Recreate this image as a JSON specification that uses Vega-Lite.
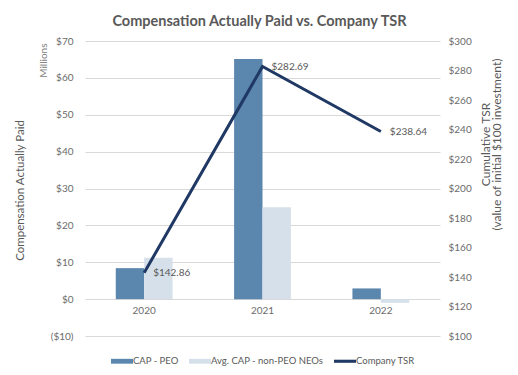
{
  "$schema": "https://vega.github.io/schema/vega-lite/v6.json",
  "width": 355,
  "height": 295,
  "autosize": {"type": "none"},
  "padding": {"left": 85, "top": 41, "right": 78, "bottom": 39},
  "background": "white",
  "config": {
    "font": "Lato",
    "view": {"stroke": null},
    "axis": {"labelColor": "#6b6b6b", "titleColor": "#595959", "labelFontSize": 10, "gridColor": "#d9d9d9", "domain": false, "ticks": false}
  },
  "title": {"text": "Compensation Actually Paid vs. Company TSR", "fontSize": 14.5, "fontWeight": "bold", "color": "#595959", "anchor": "middle", "frame": "group", "offset": -62, "dx": -3},
  "datasets": {
    "comp": [
      {"year": "2020", "series": "CAP - PEO", "value": 8.4},
      {"year": "2020", "series": "Avg. CAP - non-PEO NEOs", "value": 11.2},
      {"year": "2021", "series": "CAP - PEO", "value": 65.1},
      {"year": "2021", "series": "Avg. CAP - non-PEO NEOs", "value": 24.9},
      {"year": "2022", "series": "CAP - PEO", "value": 2.9},
      {"year": "2022", "series": "Avg. CAP - non-PEO NEOs", "value": -1.0}
    ],
    "tsr": [
      {"year": "2020", "series": "Company TSR", "tsr": 142.86},
      {"year": "2021", "series": "Company TSR", "tsr": 282.69},
      {"year": "2022", "series": "Company TSR", "tsr": 238.64}
    ]
  },
  "encoding": {
    "x": {
      "field": "year", "type": "nominal", "title": null,
      "scale": {"paddingInner": 0.52, "paddingOuter": 0.26},
      "axis": {"labelAngle": 0, "offset": -33, "labelPadding": 2, "grid": false, "labelFontSize": 10}
    }
  },
  "layer": [
    {
      "data": {"name": "comp"},
      "mark": {"type": "bar"},
      "encoding": {
        "xOffset": {"field": "series", "type": "nominal", "sort": ["CAP - PEO", "Avg. CAP - non-PEO NEOs"], "scale": {"paddingInner": 0, "paddingOuter": 0}},
        "y": {
          "field": "value", "type": "quantitative",
          "scale": {"domain": [-10, 70], "nice": false, "zero": false},
          "axis": {
            "values": [-10, 0, 10, 20, 30, 40, 50, 60, 70],
            "labelExpr": "datum.value < 0 ? '($' + (-datum.value) + ')' : '$' + datum.value",
            "labelPadding": 12,
            "title": "Compensation Actually Paid",
            "titleFontSize": 11.5, "titleFontWeight": "normal",
            "titleAngle": 270, "titleX": -65, "titleY": 149, "titleAlign": "center", "titleBaseline": "middle"
          }
        },
        "color": {
          "field": "series", "type": "nominal",
          "scale": {"domain": ["CAP - PEO", "Avg. CAP - non-PEO NEOs", "Company TSR"], "range": ["#5b86ae", "#d6e0ea", "#1f3864"]},
          "legend": {
            "orient": "none", "legendX": 26, "legendY": 309, "direction": "horizontal", "title": null,
            "labelFontSize": 9.5, "labelColor": "#595959", "labelOffset": 0,
            "columnPadding": 10, "symbolSize": 484,
            "encode": {
              "symbols": {
                "update": {
                  "shape": {"signal": "datum.value === 'Company TSR' ? 'M-1,-0.14H1V0.14H-1Z' : 'M-1,-0.22H1V0.22H-1Z'"},
                  "fill": {"signal": "scale('color', datum.value)"},
                  "strokeWidth": {"value": 0},
                  "opacity": {"value": 1}
                }
              }
            }
          }
        }
      }
    },
    {
      "data": {"name": "tsr"},
      "encoding": {
        "y": {
          "field": "tsr", "type": "quantitative",
          "scale": {"domain": [100, 300], "nice": false, "zero": false},
          "axis": {
            "orient": "right", "grid": false,
            "values": [100, 120, 140, 160, 180, 200, 220, 240, 260, 280, 300],
            "labelExpr": "'$' + datum.value", "labelPadding": 8,
            "title": "Cumulative TSR",
            "titleFontSize": 12, "titleFontWeight": "normal",
            "titleAngle": 270, "titleX": 45, "titleY": 103, "titleAlign": "center", "titleBaseline": "middle"
          }
        }
      },
      "layer": [
        {
          "mark": {"type": "line", "strokeWidth": 3},
          "encoding": {"color": {"field": "series", "type": "nominal"}}
        },
        {
          "mark": {"type": "text", "align": "left", "baseline": "middle", "dx": 9, "fontSize": 10, "color": "#595959"},
          "encoding": {"text": {"field": "tsr", "type": "quantitative", "format": "$.2f"}}
        }
      ]
    },
    {
      "data": {"name": "tsr"},
      "mark": {"type": "point", "opacity": 0},
      "encoding": {
        "y": {
          "field": "tsr", "type": "quantitative",
          "scale": {"domain": [100, 300], "nice": false, "zero": false},
          "axis": {
            "orient": "right", "labels": false, "grid": false, "ticks": false, "domain": false,
            "title": "(value of initial $100 investment)",
            "titleFontSize": 12, "titleFontWeight": "normal",
            "titleAngle": 270, "titleX": 56, "titleY": 103, "titleAlign": "center", "titleBaseline": "middle"
          }
        }
      }
    },
    {
      "data": {"name": "comp"},
      "mark": {"type": "bar", "opacity": 0},
      "encoding": {
        "y": {
          "field": "value", "type": "quantitative",
          "scale": {"domain": [-10, 70], "nice": false, "zero": false},
          "axis": {
            "orient": "left", "labels": false, "grid": false, "ticks": false, "domain": false,
            "title": "Millions", "titleFontSize": 10, "titleFontWeight": "normal", "titleColor": "#7f7f7f",
            "titleAngle": 270, "titleX": -42, "titleY": 2, "titleAlign": "right", "titleBaseline": "middle"
          }
        }
      }
    }
  ],
  "resolve": {"scale": {"y": "independent"}}
}
